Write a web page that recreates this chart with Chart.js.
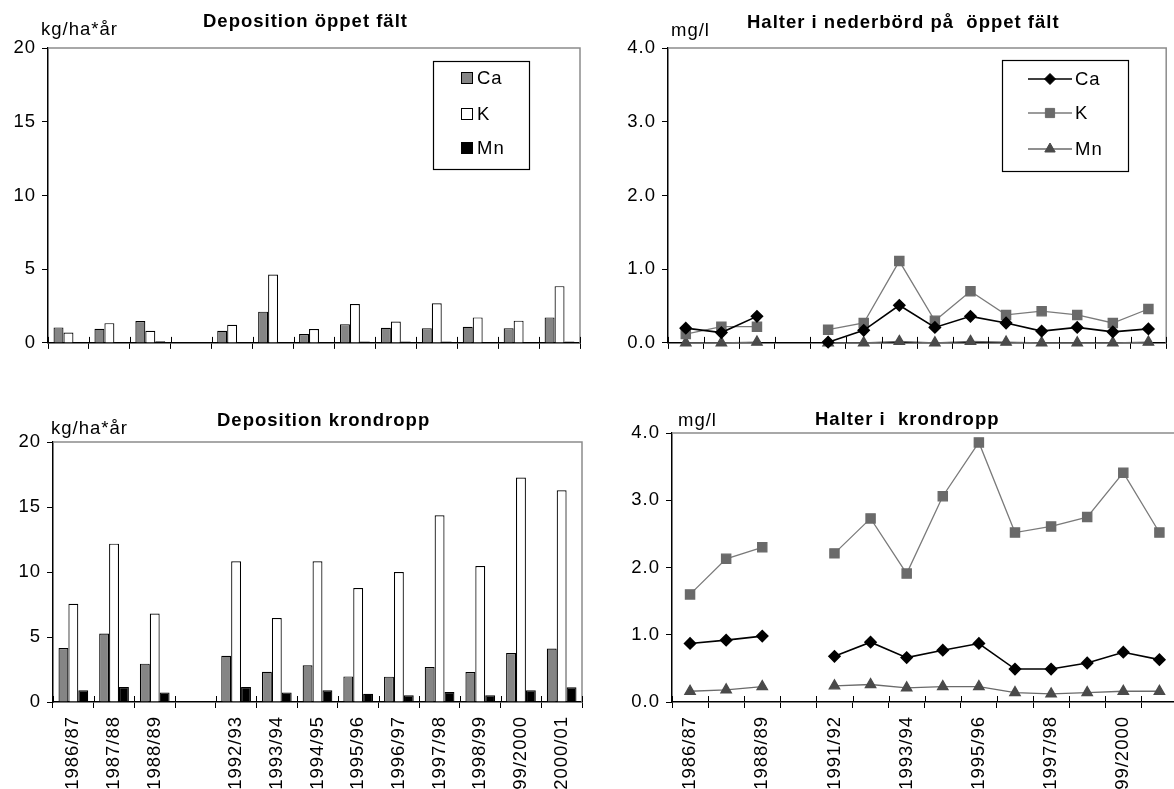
<!DOCTYPE html>
<html>
<head>
<meta charset="utf-8">
<script src="https://cdn.jsdelivr.net/npm/chart.js@4"></script>
<style>
  html, body { margin: 0; padding: 0; background: #fff; overflow: hidden; }
  body { width: 1174px; height: 789px; position: relative; font-family: 'Liberation Sans', Arial, sans-serif; color: #000; }
  .box { position: absolute; }
  .txt { position: absolute; font-size: 18.5px; line-height: 20px; letter-spacing: 1px; white-space: pre; }
  .bold { font-weight: bold; }
</style>
</head>
<body>
<div class="box" style="left:0;top:0"><canvas id="depOpen" width="600" height="360"></canvas></div>
<div class="box" style="left:590px;top:0"><canvas id="concOpen" width="584" height="360"></canvas></div>
<div class="box" style="left:0;top:380px"><canvas id="depCrown" width="600" height="409"></canvas></div>
<div class="box" style="left:590px;top:380px"><canvas id="concCrown" width="600" height="409"></canvas></div>

<div class="txt bold" style="left:203px;top:11px">Deposition öppet fält</div>
<div class="txt" style="left:41px;top:19px">kg/ha*år</div>
<div class="txt bold" style="left:747px;top:12px">Halter i nederbörd på  öppet fält</div>
<div class="txt" style="left:671px;top:20px">mg/l</div>
<div class="txt bold" style="left:217px;top:410px">Deposition krondropp</div>
<div class="txt" style="left:51px;top:418px">kg/ha*år</div>
<div class="txt bold" style="left:815px;top:409px">Halter i  krondropp</div>
<div class="txt" style="left:678px;top:410px">mg/l</div>

<script>
// season labels, the empty slot is the break in the series
const barYears = ['1986/87', '1987/88', '1988/89', '', '1992/93', '1993/94', '1994/95', '1995/96', '1996/97', '1997/98', '1998/99', '1999/2000', '2000/01'];
const lineYears = ['1986/87', '1987/88', '1988/89', '', '1991/92', '1992/93', '1993/94', '1994/95', '1995/96', '1996/97', '1997/98', '1998/99', '1999/2000', '2000/01'];

// deposition, open field (kg/ha*år)
const depOpenCa = [1.05, 0.96, 1.49, null, 0.82, 2.12, 0.6, 1.27, 1.02, 1.0, 1.1, 1.0, 1.73];
const depOpenK = [0.71, 1.34, 0.82, null, 1.23, 4.64, 0.94, 2.63, 1.45, 2.69, 1.73, 1.51, 3.85];
const depOpenMn = [0, 0, 0.11, null, 0, 0, 0, 0.1, 0.1, 0.1, 0, 0, 0.1];

// deposition, throughfall (kg/ha*år)
const depCrownCa = [4.15, 5.26, 2.95, null, 3.56, 2.33, 2.82, 1.97, 1.95, 2.69, 2.31, 3.77, 4.12];
const depCrownK = [7.56, 12.18, 6.8, null, 10.82, 6.46, 10.82, 8.77, 10.0, 14.36, 10.46, 17.26, 16.28];
const depCrownMn = [0.9, 1.15, 0.74, null, 1.15, 0.74, 0.9, 0.64, 0.51, 0.77, 0.51, 0.9, 1.13];

// concentration in precipitation, open field (mg/l)
const concOpenCa = [0.2, 0.14, 0.36, null, 0.01, 0.17, 0.51, 0.21, 0.36, 0.27, 0.16, 0.21, 0.15, 0.19];
const concOpenK = [0.12, 0.22, 0.22, null, 0.18, 0.27, 1.11, 0.3, 0.7, 0.38, 0.43, 0.38, 0.27, 0.46];
const concOpenMn = [0.0, 0.0, 0.01, null, 0.0, 0.0, 0.02, 0.0, 0.02, 0.01, 0.0, 0.0, 0.0, 0.01];

// concentration in throughfall (mg/l)
const concCrownCa = [0.87, 0.92, 0.98, null, 0.68, 0.89, 0.66, 0.77, 0.87, 0.49, 0.49, 0.58, 0.74, 0.63];
const concCrownK = [1.6, 2.13, 2.3, null, 2.21, 2.73, 1.91, 3.06, 3.86, 2.52, 2.61, 2.75, 3.41, 2.52];
const concCrownMn = [0.16, 0.18, 0.23, null, 0.24, 0.26, 0.21, 0.23, 0.23, 0.14, 0.12, 0.14, 0.16, 0.16];

const depTicks = [0, 5, 10, 15, 20];
const concTicks = [0, 1, 2, 3, 4];

Chart.defaults.font.family = "'Liberation Sans', Arial, sans-serif";
Chart.defaults.font.size = 18.5;
Chart.defaults.color = '#000';

// spacing of the text, plus the grey frame and the crossing ticks
const frame = {
    id: 'frame',
    beforeLayout: function (chart) { chart.ctx.letterSpacing = '1px'; },
    beforeDraw: function (chart) { chart.ctx.letterSpacing = '1px'; },
    afterDraw: function (chart) {
        const ctx = chart.ctx;
        const a = chart.chartArea;
        const x = chart.scales.x;
        ctx.save();
        ctx.strokeStyle = '#8c8c8c';
        ctx.lineWidth = 1.5;
        ctx.beginPath();
        ctx.moveTo(a.left, a.top);
        ctx.lineTo(a.right, a.top);
        ctx.lineTo(a.right, a.bottom);
        ctx.stroke();
        ctx.strokeStyle = '#000';
        ctx.lineWidth = 1;
        ctx.beginPath();
        for (let i = 0; i <= x.ticks.length; i++) {
            const px = Math.round(x.getPixelForValue(i - 0.5)) + 0.5;
            ctx.moveTo(px, a.bottom - 6);
            ctx.lineTo(px, a.bottom);
        }
        ctx.stroke();
        ctx.restore();
    }
};

// legend in a framed box inside the plot
const boxLegend = {
    id: 'boxLegend',
    afterDraw: function (chart, args, opts) {
        if (!opts.box) return;
        const ctx = chart.ctx;
        const b = opts.box;
        ctx.save();
        ctx.fillStyle = '#fff';
        ctx.fillRect(b[0], b[1], b[2], b[3]);
        ctx.strokeStyle = '#000';
        ctx.lineWidth = 1.2;
        ctx.strokeRect(b[0] + 0.5, b[1] + 0.5, b[2], b[3]);
        ctx.font = "18.5px 'Liberation Sans', Arial, sans-serif";
        ctx.letterSpacing = '1px';
        ctx.textBaseline = 'middle';
        chart.data.datasets.forEach(function (ds, i) {
            const y = opts.rows[i];
            if (chart.config.type === 'bar') {
                ctx.fillStyle = ds.backgroundColor;
                ctx.fillRect(opts.markX, y - 6, 11, 11);
                ctx.strokeStyle = '#000';
                ctx.lineWidth = 1;
                ctx.strokeRect(opts.markX + 0.5, y - 5.5, 11, 11);
            } else {
                ctx.strokeStyle = ds.borderColor;
                ctx.lineWidth = ds.borderWidth;
                ctx.beginPath();
                ctx.moveTo(opts.markX - 22, y);
                ctx.lineTo(opts.markX + 22, y);
                ctx.stroke();
                ctx.fillStyle = ds.pointBackgroundColor;
                ctx.strokeStyle = ds.pointBorderColor;
                ctx.lineWidth = 1;
                Chart.helpers.drawPoint(ctx, { pointStyle: ds.pointStyle, radius: ds.pointRadius, rotation: 0, borderWidth: 1 }, opts.markX, y);
            }
            ctx.fillStyle = '#000';
            ctx.fillText(ds.label, opts.textX, y + 1);
        });
        ctx.restore();
    }
};

function yScale(max, ticks, width, decimals) {
    return {
        min: 0,
        max: max,
        afterBuildTicks: function (scale) { scale.ticks = ticks.map(function (v) { return { value: v }; }); },
        afterFit: function (scale) { scale.width = width; },
        grid: { drawOnChartArea: false, tickLength: 6, color: '#000', lineWidth: 1 },
        border: { color: '#000', width: 1.5 },
        ticks: {
            padding: 6,
            callback: function (v) { return decimals ? v.toFixed(1) : v; }
        }
    };
}

function xScale(height, showLabels, every) {
    return {
        offset: true,
        afterFit: function (scale) { scale.height = height; },
        grid: { offset: true, drawOnChartArea: false, tickLength: 6, color: '#000', lineWidth: 1 },
        border: { color: '#000', width: 1.5 },
        ticks: {
            display: showLabels,
            autoSkip: false,
            minRotation: 90,
            maxRotation: 90,
            padding: 8,
            callback: function (v, i) { return i % every === 0 ? this.getLabelForValue(v) : ''; }
        }
    };
}

function barSets(ca, k, mn) {
    const common = { borderColor: '#000', borderWidth: 1.2, categoryPercentage: 0.73, barPercentage: 1.0 };
    return [
        Object.assign({ label: 'Ca', backgroundColor: '#858585', data: ca }, common),
        Object.assign({ label: 'K', backgroundColor: '#ffffff', data: k }, common),
        Object.assign({ label: 'Mn', backgroundColor: '#000000', data: mn }, common)
    ];
}

function lineSets(ca, k, mn) {
    return [{
        label: 'Ca', data: ca, borderColor: '#000', borderWidth: 1.6,
        pointStyle: 'rectRot', pointRadius: 5.5, pointBackgroundColor: '#000', pointBorderColor: '#000',
        clip: false, spanGaps: false
    }, {
        label: 'K', data: k, borderColor: '#7a7a7a', borderWidth: 1.3,
        pointStyle: 'rect', pointRadius: 6.5, pointBackgroundColor: '#6a6a6a', pointBorderColor: '#6a6a6a',
        clip: false, spanGaps: false
    }, {
        label: 'Mn', data: mn, borderColor: '#6a6a6a', borderWidth: 1.3,
        pointStyle: 'triangle', pointRadius: 6, pointBackgroundColor: '#4a4a4a', pointBorderColor: '#4a4a4a',
        clip: false, spanGaps: false
    }];
}

const basePlugins = { legend: { display: false }, tooltip: { enabled: false } };

const depOpenChart = new Chart(document.getElementById('depOpen'), {
    type: 'bar',
    data: { labels: barYears, datasets: barSets(depOpenCa, depOpenK, depOpenMn) },
    options: {
        responsive: false, animation: false,
        layout: { padding: { left: 0, right: 20, top: 48, bottom: 0 } },
        scales: { x: xScale(13, false, 1), y: yScale(20, depTicks, 48, false) },
        plugins: Object.assign({ boxLegend: { box: [433, 61, 96, 108], rows: [78, 114, 148], markX: 461, textX: 477 } }, basePlugins)
    },
    plugins: [frame, boxLegend]
});

const concOpenChart = new Chart(document.getElementById('concOpen'), {
    type: 'line',
    data: { labels: lineYears, datasets: lineSets(concOpenCa, concOpenK, concOpenMn) },
    options: {
        responsive: false, animation: false,
        layout: { padding: { left: 0, right: 4, top: 48, bottom: 0 } },
        scales: { x: xScale(15, false, 1), y: yScale(4, concTicks, 78, true) },
        plugins: Object.assign({ boxLegend: { box: [412, 60, 126, 111], rows: [79, 113, 149], markX: 460, textX: 485 } }, basePlugins)
    },
    plugins: [frame, boxLegend]
});

const depCrownChart = new Chart(document.getElementById('depCrown'), {
    type: 'bar',
    data: { labels: barYears, datasets: barSets(depCrownCa, depCrownK, depCrownMn) },
    options: {
        responsive: false, animation: false,
        layout: { padding: { left: 0, right: 18, top: 62, bottom: 0 } },
        scales: { x: xScale(87, true, 1), y: yScale(20, depTicks, 53, false) },
        plugins: Object.assign({ boxLegend: {} }, basePlugins)
    },
    plugins: [frame, boxLegend]
});

const concCrownChart = new Chart(document.getElementById('concCrown'), {
    type: 'line',
    data: { labels: lineYears, datasets: lineSets(concCrownCa, concCrownK, concCrownMn) },
    options: {
        responsive: false, animation: false,
        layout: { padding: { left: 0, right: 11, top: 53, bottom: 0 } },
        scales: { x: xScale(87, true, 2), y: yScale(4, concTicks, 82, true) },
        plugins: Object.assign({ boxLegend: {} }, basePlugins)
    },
    plugins: [frame, boxLegend]
});
</script>
</body>
</html>
